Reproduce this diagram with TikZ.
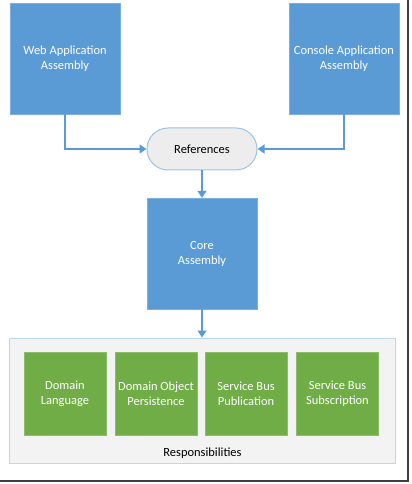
\documentclass[tikz,border=0pt]{standalone}
\usepackage{fontspec}
\setmainfont{Carlito}
\usetikzlibrary{arrows.meta}
\definecolor{bluebox}{HTML}{5B9BD5}
\definecolor{greenbox}{HTML}{70AD47}
\definecolor{pillfill}{HTML}{EDEDED}
\definecolor{pillline}{HTML}{9DC3E6}
\definecolor{contfill}{HTML}{F3F3F3}
\definecolor{contline}{HTML}{BDD7EE}
\tikzset{
  lbl/.style={font=\fontsize{12.5}{15}\selectfont},
  bluerect/.style={lbl, draw=bluebox!80!white, fill=bluebox, minimum width=110bp, minimum height=111bp, text=white, align=center, inner sep=0pt},
  greenrect/.style={lbl, draw=greenbox!80!white, fill=greenbox, minimum width=82bp, minimum height=83bp, text=white, align=center, inner sep=0pt},
  conn/.style={draw=bluebox, line width=1.3bp, -{Triangle[length=7bp,width=9bp]}},
}
\begin{document}
\begin{tikzpicture}[x=1bp,y=-1bp]
\useasboundingbox (0,0) rectangle (411,484);
\fill[white] (0,0) rectangle (411,484);
% frame shadow
\draw[black!75, line width=2bp] (408,0) -- (408,481) -- (0,481);
% container
\node[draw=contline, fill=contfill, line width=1bp, minimum width=385bp, minimum height=125bp, inner sep=0pt] (cont) at (202.5,400.5) {};
\node[lbl] (resp) at (202.5,453) {Responsibilities};
% top boxes
\node[bluerect] (web) at (65,58.5) {Web Application\\Assembly};
\node[bluerect] (cons) at (344,58.5) {Console Application\\Assembly};
\node[lbl, draw=pillline, fill=pillfill, line width=1bp, rounded corners=21bp, minimum width=110bp, minimum height=42bp, inner sep=0pt] (ref) at (202,149) {References};
\node[bluerect] (core) at (202,253.5) {Core\\Assembly};
% green boxes
\node[greenrect] (g1) at (65,393.5) {Domain\\Language};
\node[greenrect] (g2) at (156,393.5) {Domain Object\\Persistence};
\node[greenrect] (g3) at (246,393.5) {Service Bus\\Publication};
\node[greenrect] (g4) at (337.5,393.5) {Service Bus\\Subscription};
% connectors
\draw[conn] (web.south) |- (ref.west);
\draw[conn] (cons.south) |- (ref.east);
\draw[conn] (ref.south) -- (core.north);
\draw[conn] (core.south) -- (cont.north -| core.south);
\end{tikzpicture}
\end{document}
